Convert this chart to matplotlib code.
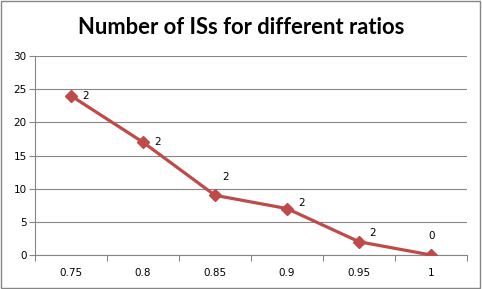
import matplotlib
matplotlib.use("Agg")
import matplotlib.pyplot as plt
from matplotlib.patches import Rectangle
import numpy as np

# ── Data
ratios = ["0.75", "0.8", "0.85", "0.9", "0.95", "1"]
num_iss = [24, 17, 9, 7, 2, 0]
point_labels = ["2", "2", "2", "2", "2", "0"]

# label offsets in pixels (dx, dy) as placed in the original
label_offsets = [(15, 0), (15, 0), (11, 18), (15, 6), (14, 9), (1, 19)]

LINE_COLOR = "#BE4B48"
GRID_COLOR = "#868686"

fig = plt.figure(figsize=(4.82, 2.89), dpi=100)
fig.patches.append(Rectangle((0.002, 0.003), 0.994, 0.992, transform=fig.transFigure,
                             fill=False, edgecolor=GRID_COLOR, lw=1))

ax = fig.add_axes([35 / 482, 34 / 289, 432 / 482, 199 / 289])
x = np.arange(len(ratios))
ax.plot(x, num_iss, color=LINE_COLOR, lw=2.3, marker="D", ms=6.5,
        markerfacecolor=LINE_COLOR, markeredgecolor=LINE_COLOR, zorder=3)

for xi, yi, lab, (dx, dy) in zip(x, num_iss, point_labels, label_offsets):
    ax.annotate(lab, (xi, yi), xytext=(dx * 0.72, dy * 0.72), textcoords="offset points",
                ha="center", va="center", fontsize=7.5, family="DejaVu Sans", color="black")

ax.set_xlim(-0.5, len(ratios) - 0.5)
ax.set_ylim(0, 30)
ax.set_yticks(range(0, 31, 5))
ax.yaxis.grid(True, color=GRID_COLOR, lw=0.8)
ax.set_axisbelow(True)

ax.set_xticks(x)
ax.set_xticklabels(ratios)
ax.set_xticks(np.arange(-0.5, len(ratios)), minor=True)
ax.tick_params(axis="x", which="major", length=0, pad=9, labelsize=7.5)
ax.tick_params(axis="x", which="minor", length=4, color=GRID_COLOR, width=0.8)
ax.tick_params(axis="y", length=4, color=GRID_COLOR, width=0.8, pad=2, labelsize=7.5)

for side in ["top", "right"]:
    ax.spines[side].set_visible(False)
for side in ["left", "bottom"]:
    ax.spines[side].set_color(GRID_COLOR)
    ax.spines[side].set_linewidth(0.8)

fig.text(0.5, 1 - 27 / 289, "Number of ISs for different ratios", ha="center", va="center",
         fontsize=15.8, fontweight="bold", family="Lato")

fig.savefig("out.png", dpi=100)
